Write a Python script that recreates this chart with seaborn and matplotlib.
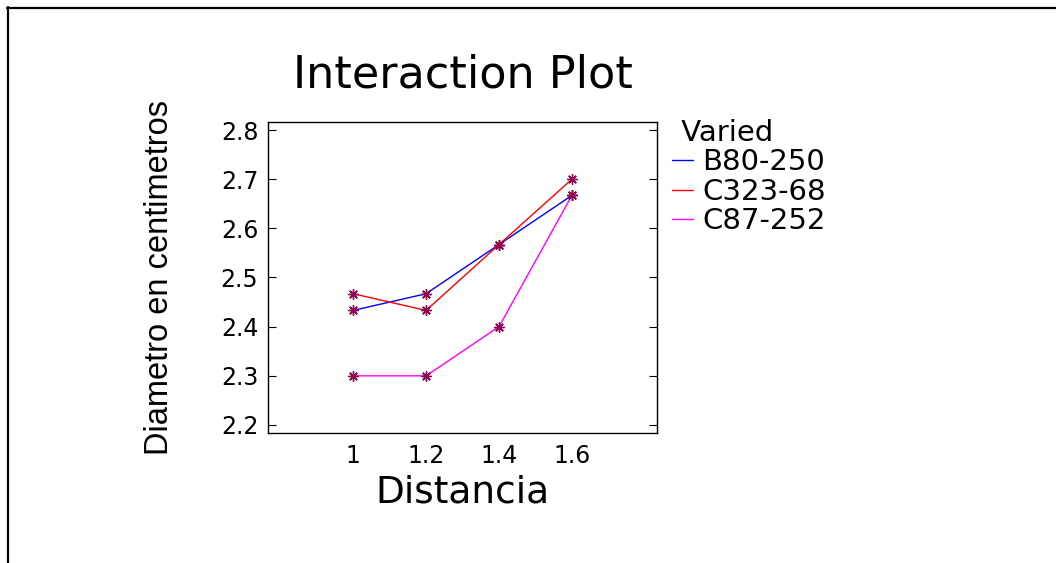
import matplotlib
matplotlib.use("Agg")
import matplotlib.pyplot as plt
from matplotlib.lines import Line2D
import seaborn as sns
import pandas as pd

# ---- data ----
distancia = [1.0, 1.2, 1.4, 1.6]
varieties = ["B80-250", "C323-68", "C87-252"]
b80_250 = [2.433, 2.467, 2.567, 2.667]
c323_68 = [2.467, 2.433, 2.567, 2.700]
c87_252 = [2.300, 2.300, 2.400, 2.667]
y_ticks = [2.2, 2.3, 2.4, 2.5, 2.6, 2.7, 2.8]
x_ticks = [1.0, 1.2, 1.4, 1.6]
x_tick_labels = ["1", "1.2", "1.4", "1.6"]
line_colors = ["#0000FF", "#FF0000", "#FF00FF"]
marker_color = "#8B0A50"

rows = []
for name, vals in zip(varieties, [b80_250, c323_68, c87_252]):
    for d, v in zip(distancia, vals):
        rows.append({"Distancia": d, "Diametro": v, "Varied": name})
df = pd.DataFrame(rows)

sns.set_theme(style="white")
plt.rcParams["font.family"] = ["DejaVu Sans"]
plt.rcParams["text.color"] = "black"

W, H = 1056, 563
fig = plt.figure(figsize=(W / 100, H / 100), dpi=100)
fig.patch.set_facecolor("white")
ax = fig.add_axes([268 / W, 1 - 433 / H, (657 - 268) / W, (433 - 122) / H])

palette = dict(zip(varieties, line_colors))
sns.lineplot(data=df, x="Distancia", y="Diametro", hue="Varied",
             palette=palette, hue_order=varieties, linewidth=1.0,
             marker=(8, 2, 0), markersize=7.5, markeredgecolor=marker_color,
             markeredgewidth=1.0, legend=False, ax=ax, sort=True)

ax.set_xlim(0.7667, 1.8333)
ax.set_ylim(2.1837, 2.8163)
ax.set_xticks(x_ticks)
ax.set_xticklabels(x_tick_labels)
ax.set_yticks(y_ticks)
ax.set_yticklabels([f"{t:.1f}" for t in y_ticks])

for sp in ax.spines.values():
    sp.set_visible(True)
    sp.set_color("black")
    sp.set_linewidth(1.0)

ax.tick_params(axis="y", which="major", direction="in", length=6, width=0.8,
               color="black", left=True, right=True, labelsize=17, pad=7,
               labelcolor="black")
ax.tick_params(axis="x", which="major", length=0, labelsize=17, pad=8,
               labelcolor="black")

ax.set_xlabel("Distancia", fontsize=27, color="black")
ax.xaxis.set_label_coords(0.5, -0.133)
ax.set_ylabel("Diametro en centimetros", fontsize=23.5, color="black",
              family=["Liberation Sans", "DejaVu Sans"])
ax.yaxis.set_label_coords(-0.238, 0.5)

ax.set_title("Interaction Plot", fontsize=32, color="black", y=1.1125, pad=0)

handles = [Line2D([0], [0], color=c, lw=1.0) for c in line_colors]
leg = fig.legend(handles, varieties, title=" Varied", loc="upper left",
                 bbox_to_anchor=(672 / W, 1 - 119 / H), frameon=False,
                 fontsize=21, title_fontsize=21, borderpad=0, borderaxespad=0,
                 handlelength=0.72, handletextpad=0.31, labelspacing=0.05,
                 labelcolor="black")
leg._legend_box.align = "left"
leg.get_title().set_color("black")

# page frame lines (top and left)
fig.add_artist(Line2D([7 / W, 1.0], [1 - 7.5 / H, 1 - 7.5 / H],
                      transform=fig.transFigure, color="black", lw=1.6))
fig.add_artist(Line2D([7.5 / W, 7.5 / W], [0.0, 1 - 7 / H],
                      transform=fig.transFigure, color="black", lw=1.6))

fig.savefig("out.png", dpi=100, facecolor="white")
